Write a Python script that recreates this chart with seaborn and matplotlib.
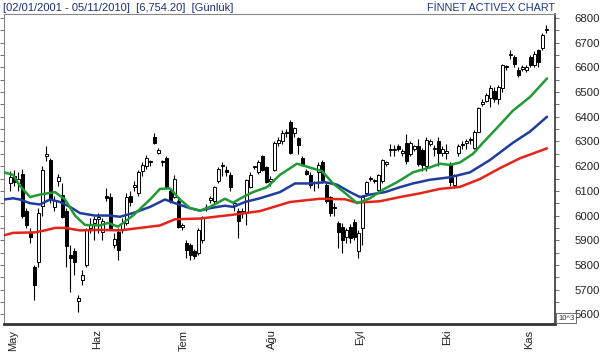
import numpy as np
import matplotlib
matplotlib.use("Agg")
import matplotlib.pyplot as plt
from matplotlib.ticker import MultipleLocator
import seaborn as sns

# daily candles (index = trading day)
opens = [6130, 6160, 6130, 6170, 6020, 5930, 5790, 5810, 6040, 6240,
         6225, 6035, 6140, 6085, 6020, 5840, 5855, 5655, 5740, 5800,
         5950, 5970, 5985, 5935, 6080, 6075, 5880, 5935, 5940, 5970,
         6080, 6115, 6090, 6180, 6200, 6215, 6320, 6255, 6215, 6235,
         6100, 6075, 6060, 5955, 5890, 5880, 5855, 5850, 5900, 6030,
         6065, 6060, 6140, 6200, 6185, 6165, 6040, 6020, 6010, 6010,
         6115, 6195, 6175, 6240, 6195, 6140, 6185, 6295, 6300, 6335,
         6380, 6335, 6315, 6235, 6180, 6165, 6130, 6175, 6215, 6125,
         6075, 6035, 5970, 5955, 5915, 5955, 5975, 5855, 5950, 6090,
         6150, 6140, 6105, 6140, 6210, 6265, 6265, 6280, 6255, 6295,
         6250, 6270, 6280, 6265, 6200, 6290, 6270, 6300, 6255, 6255,
         6210, 6125, 6255, 6285, 6295, 6310, 6275, 6340, 6450, 6465,
         6475, 6505, 6470, 6515, 6600, 6650, 6640, 6590, 6595, 6590,
         6640, 6610, 6670, 6680, 6750]
highs = [6180, 6185, 6175, 6190, 6030, 5950, 5800, 6030, 6200, 6280,
         6235, 6080, 6170, 6130, 6030, 5880, 5870, 5680, 5780, 5950,
         5990, 6000, 6010, 5990, 6110, 6090, 5930, 5950, 5990, 6090,
         6100, 6140, 6185, 6215, 6245, 6225, 6335, 6275, 6225, 6240,
         6110, 6165, 6070, 5970, 5900, 5890, 5865, 5950, 6000, 6045,
         6080, 6120, 6195, 6215, 6200, 6175, 6060, 6030, 6030, 6150,
         6175, 6200, 6225, 6245, 6200, 6160, 6300, 6320, 6345, 6350,
         6385, 6360, 6320, 6240, 6190, 6175, 6140, 6215, 6225, 6130,
         6080, 6050, 5980, 5970, 5950, 5965, 5985, 5940, 6080, 6140,
         6160, 6150, 6170, 6230, 6220, 6290, 6285, 6290, 6270, 6330,
         6300, 6285, 6310, 6275, 6320, 6310, 6285, 6320, 6280, 6290,
         6215, 6170, 6290, 6300, 6310, 6320, 6345, 6440, 6470, 6495,
         6530, 6520, 6530, 6615, 6610, 6670, 6650, 6600, 6610, 6610,
         6650, 6665, 6675, 6740, 6770]
lows = [6100, 6120, 6100, 5990, 5950, 5890, 5660, 5790, 6000, 6220,
        6050, 6020, 6120, 5990, 5790, 5690, 5760, 5610, 5720, 5790,
        5930, 5900, 5930, 5900, 6060, 5940, 5870, 5820, 5930, 5960,
        6040, 6100, 6080, 6160, 6190, 6200, 6290, 6250, 6200, 6110,
        6050, 6070, 5950, 5940, 5830, 5820, 5825, 5840, 5890, 6020,
        6050, 6050, 6130, 6160, 6160, 6100, 6020, 5910, 5990, 5960,
        6110, 6190, 6170, 6180, 6130, 6120, 6180, 6280, 6290, 6320,
        6250, 6320, 6250, 6200, 6165, 6110, 6100, 6110, 6130, 6050,
        6000, 6000, 5870, 5850, 5890, 5890, 5900, 5830, 5880, 6080,
        6140, 6130, 6090, 6130, 6200, 6240, 6240, 6260, 6240, 6210,
        6240, 6260, 6200, 6180, 6180, 6280, 6240, 6200, 6240, 6230,
        6120, 6110, 6240, 6270, 6270, 6290, 6270, 6340, 6445, 6460,
        6440, 6460, 6450, 6500, 6590, 6635, 6600, 6560, 6585, 6580,
        6600, 6600, 6600, 6670, 6740]
closes = [6155, 6135, 6150, 6000, 5960, 5915, 5720, 6010, 6185, 6250,
          6065, 6065, 6155, 5995, 5875, 5830, 5810, 5665, 5760, 5940,
          5960, 5985, 5995, 5980, 6070, 5950, 5905, 5860, 5970, 6075,
          6055, 6125, 6175, 6205, 6235, 6215, 6295, 6265, 6220, 6115,
          6060, 6150, 5955, 5960, 5860, 5840, 5835, 5940, 5995, 6035,
          6070, 6115, 6190, 6205, 6175, 6115, 6050, 5980, 6020, 6145,
          6165, 6195, 6215, 6185, 6135, 6150, 6295, 6305, 6335, 6340,
          6255, 6355, 6285, 6205, 6170, 6125, 6130, 6205, 6145, 6060,
          6010, 6030, 5935, 5900, 5940, 5910, 5915, 5930, 6075, 6135,
          6150, 6140, 6165, 6225, 6215, 6265, 6270, 6270, 6260, 6220,
          6295, 6280, 6210, 6205, 6305, 6300, 6275, 6255, 6270, 6260,
          6135, 6165, 6280, 6290, 6300, 6305, 6340, 6435, 6460, 6490,
          6515, 6470, 6520, 6610, 6600, 6650, 6615, 6570, 6600, 6600,
          6610, 6655, 6620, 6730, 6754.2]

# moving averages (day position, value)
green_x = [-1.5, 0.75, 2.5, 5, 7.5, 11.25, 13.75, 16.25, 18.75, 22.5, 24.5,
           27, 30.75, 35, 37.5, 40, 42.5, 45, 47.5, 50, 53.75, 55.75, 58.25,
           60.75, 64.25, 67.5, 71.75, 74.25, 76.25, 78, 80.75, 84.25, 86.75,
           90, 93.25, 96.75, 100.75, 105, 107.5, 110, 112.5, 115.75, 118.25,
           121.75, 125.75, 130, 134.25]
green_y = [6175, 6165, 6120, 6075, 6085, 6095, 6065, 6000, 5962, 5960, 5970,
           5955, 6000, 6065, 6108, 6110, 6065, 6030, 6020, 6035, 6068, 6052,
           6075, 6095, 6115, 6165, 6210, 6198, 6188, 6180, 6130, 6085, 6050,
           6070, 6105, 6135, 6175, 6195, 6210, 6205, 6215, 6250, 6295, 6355,
           6425, 6480, 6555]
blue_x = [-1.5, 0.75, 2.5, 5, 7.5, 10, 12.5, 15, 17.5, 21.25, 25, 27.5,
          30.75, 35, 38.75, 41.25, 45, 47.5, 50, 53.75, 55.75, 58.75, 62.5,
          67.5, 71.25, 75, 78.75, 81.75, 85, 87.5, 90, 93.75, 97.5, 100.75,
          105, 110, 115, 120, 125.75, 130, 134.25]
blue_y = [6065, 6070, 6065, 6050, 6045, 6065, 6055, 6035, 6010, 6000, 6000,
          5995, 6010, 6035, 6065, 6050, 6030, 6020, 6030, 6040, 6035, 6055,
          6070, 6095, 6130, 6130, 6135, 6125, 6095, 6075, 6085, 6095, 6115,
          6130, 6145, 6155, 6175, 6225, 6295, 6340, 6400]
red_x = [-1.5, 0.75, 6.25, 8.75, 11.25, 13.75, 17.5, 22.5, 27.5, 32.5,
         37.5, 41.25, 47.5, 55, 62.5, 70, 77.5, 83.75, 86.75, 92.5, 97.5,
         102.5, 107.5, 112.5, 117.5, 122.5, 127.5, 134.25]
red_y = [5920, 5930, 5932, 5940, 5950, 5950, 5940, 5942, 5940, 5950, 5960,
         5985, 5988, 6002, 6018, 6055, 6068, 6066, 6052, 6058, 6075, 6090,
         6108, 6116, 6148, 6192, 6232, 6272]

month_pos = [0.75, 21.75, 43.5, 65.5, 87.5, 109.25, 129.75]
month_lbl = ["May", "Haz", "Tem", "Ağu", "Eyl", "Eki", "Kas"]

sns.set_style("white")
plt.rcParams["font.family"] = ["Liberation Sans", "DejaVu Sans"]

fig = plt.figure(figsize=(6, 3.57), dpi=100)
ax = fig.add_axes([4 / 600, 33 / 357, 551 / 600, 310 / 357])

o = np.array(opens, dtype=float)
h = np.array(highs, dtype=float)
l = np.array(lows, dtype=float)
c = np.array(closes, dtype=float)
x = np.arange(len(o))
up = c >= o

ax.vlines(x, l, h, color="black", lw=0.8, zorder=2)
body = np.maximum(np.abs(c - o), 4)
bottom = np.minimum(o, c)
ax.bar(x[up], body[up], bottom=bottom[up], width=0.75, color="white",
       edgecolor="black", lw=0.7, zorder=3)
ax.bar(x[~up], body[~up], bottom=bottom[~up], width=0.75, color="black",
       edgecolor="black", lw=0.7, zorder=3)

line_kw = dict(lw=1.8, ax=ax, zorder=4, solid_joinstyle="round",
               solid_capstyle="round")
sns.lineplot(x=red_x, y=red_y, color="#e4231b", **line_kw)
sns.lineplot(x=blue_x, y=blue_y, color="#1f3c9e", **line_kw)
sns.lineplot(x=green_x, y=green_y, color="#1f9a34", **line_kw)

ax.set_xlim(-1.5, 136.25)
ax.set_ylim(5561, 6816)

ax.yaxis.tick_right()
ax.yaxis.set_major_locator(MultipleLocator(100))
ax.yaxis.set_minor_locator(MultipleLocator(50))
ax.tick_params(axis="y", which="both", left=True, right=True, direction="out",
               length=3, width=0.6, color="#555555", labelsize=8.2, pad=11,
               labelcolor="#222222")
ax.set_xticks(month_pos)
ax.set_xticklabels(month_lbl, rotation=90, fontsize=8, color="#222222")
ax.tick_params(axis="x", direction="out", length=2, width=0.6, pad=2)
ax.set_xlabel("")
ax.set_ylabel("")

for side in ["left", "top"]:
    ax.spines[side].set_color("#888888")
    ax.spines[side].set_linewidth(0.8)
ax.spines["right"].set_color("#333333")
ax.spines["right"].set_linewidth(1.2)
ax.spines["bottom"].set_color("#333333")
ax.spines["bottom"].set_linewidth(2)

fig.text(3 / 600, 1 - 8 / 357, "[02/01/2001 - 05/11/2010]  [6,754.20]  [Günlük]",
         fontsize=8, color="#1c2f7a", va="center", ha="left")
fig.text(555 / 600, 1 - 8 / 357, "FİNNET ACTIVEX CHART",
         fontsize=7.8, color="#1c3a8c", va="center", ha="right")
fig.text(558 / 600, 1 - 318 / 357, "10^3", fontsize=5.5, color="#333333",
         va="center", ha="left", zorder=10,
         bbox=dict(boxstyle="square,pad=0.2", fc="white", ec="#555555", lw=0.6))

fig.savefig("out.png", dpi=100)
